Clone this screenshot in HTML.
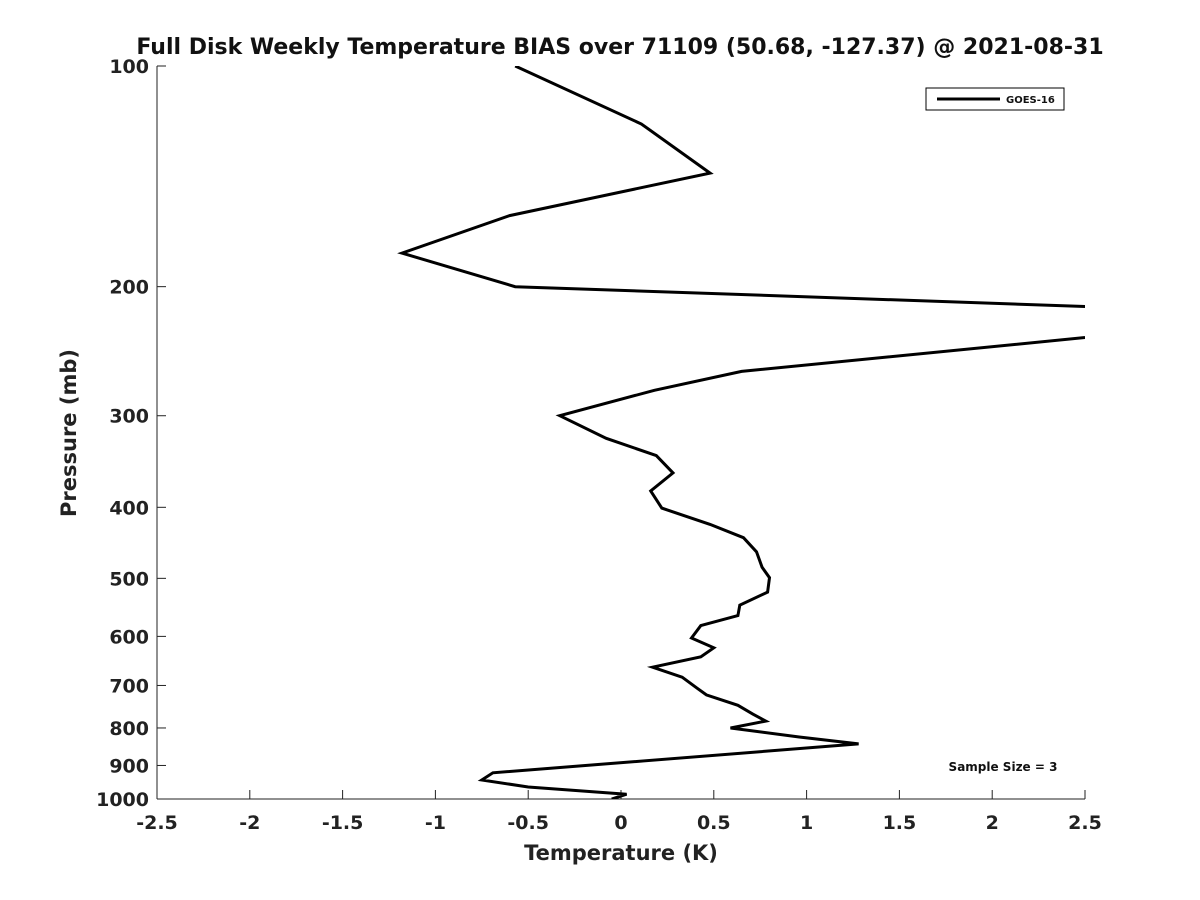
<!DOCTYPE html>
<html><head><meta charset="utf-8">
<style>
html,body{margin:0;padding:0;background:#fff;}
svg{display:block;font-family:"DejaVu Sans","Liberation Sans",sans-serif;font-weight:bold;}
</style></head>
<body>
<svg width="1200" height="900" viewBox="0 0 1200 900">
<defs><clipPath id="pc"><rect x="157" y="66" width="928" height="733"/></clipPath></defs>
<text x="620" y="54" text-anchor="middle" font-size="22" fill="#111">Full Disk Weekly Temperature BIAS over 71109 (50.68, -127.37) @ 2021-08-31</text>
<g id="axes"></g>
<g clip-path="url(#pc)"><path id="line" fill="none" stroke="#000" stroke-width="3" stroke-linejoin="miter"/></g>
<g>
<rect x="926" y="88" width="138" height="22" fill="#fff" stroke="#000" stroke-width="1"/>
<line x1="937" y1="99" x2="1000" y2="99" stroke="#000" stroke-width="3"/>
<text x="1006" y="103" font-size="10" fill="#111">GOES-16</text>
</g>
<text x="1003" y="771" text-anchor="middle" font-size="12" fill="#111">Sample Size = 3</text>
<text x="621" y="860" text-anchor="middle" font-size="21" fill="#222">Temperature (K)</text>
<text transform="translate(76,433) rotate(-90)" text-anchor="middle" font-size="21" fill="#222">Pressure (mb)</text>
</svg>
<script>
const temps=[-0.57,0.11,0.48,-0.60,-1.18,-0.57,3.0,3.0,0.65,0.18,-0.33,-0.08,0.19,0.28,0.16,0.22,0.48,0.66,0.73,0.76,0.80,0.79,0.64,0.63,0.43,0.38,0.50,0.43,0.17,0.33,0.41,0.46,0.63,0.71,0.78,0.59,0.96,1.28,-0.69,-0.75,-0.50,0.03,-0.05];
const pressures=[100,120,140,160,180,200,215,228,261,277,300,322,340,359,380,401,422,440,460,483,499,522,544,562,580,603,622,640,661,682,706,721,745,766,783,800,823,841,921,942,963,985,1000];
const xTicks=[-2.5,-2,-1.5,-1,-0.5,0,0.5,1,1.5,2,2.5];
const yTicks=[100,200,300,400,500,600,700,800,900,1000];
const X0=157,X1=1085,Y0=66,Y1=799;
function xs(t){return X0+(t+2.5)/5*(X1-X0);}
function ys(p){return Y0+(Math.log10(p)-2)*(Y1-Y0);}
const NS="http://www.w3.org/2000/svg";
const ax=document.getElementById('axes');
function mk(tag,attrs,parent){const e=document.createElementNS(NS,tag);for(const k in attrs)e.setAttribute(k,attrs[k]);parent.appendChild(e);return e;}
const xl=mk('line',{x1:X0,y1:Y1,x2:X1,y2:Y1,stroke:'#222','stroke-width':1},ax);


const yl=mk('line',{x1:X0,y1:Y0,x2:X0,y2:Y1,stroke:'#222','stroke-width':1},ax);


xTicks.forEach(t=>{
 const x=xs(t);
 const tk=mk('line',{x1:x,y1:Y1,x2:x,y2:Y1-9,stroke:'#222','stroke-width':1},ax);
 
 
 const tx=mk('text',{x:x,y:829,'text-anchor':'middle','font-size':19,fill:'#222'},ax);
 tx.textContent=String(t);
 
 
});
yTicks.forEach(p=>{
 const y=ys(p);
 const tk=mk('line',{x1:X0,y1:y,x2:X0+9,y2:y,stroke:'#222','stroke-width':1},ax);
 
 
 const tx=mk('text',{x:149,y:y+7,'text-anchor':'end','font-size':19,fill:'#222'},ax);
 tx.textContent=String(p);
 
 
});
document.getElementById('line').setAttribute('d',temps.map((t,i)=>(i?'L':'M')+xs(t).toFixed(1)+' '+ys(pressures[i]).toFixed(1)).join(' '));
</script>
</body></html>
